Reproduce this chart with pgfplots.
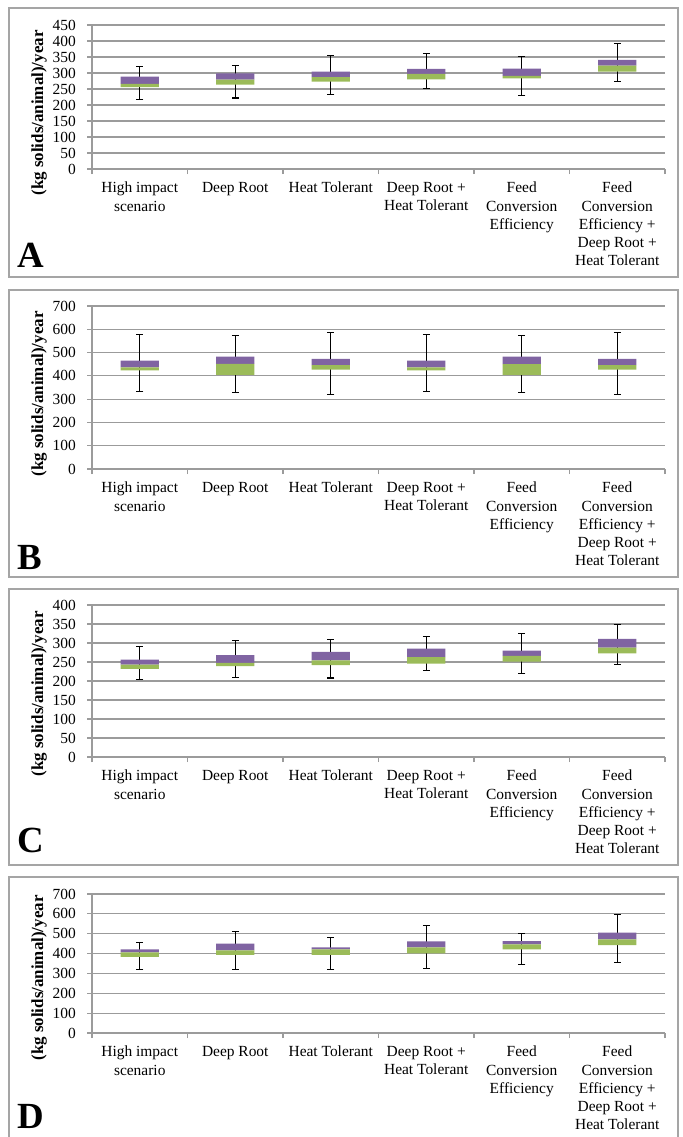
\documentclass[border=0pt]{standalone}
\usepackage{fontspec}
\setmainfont{Liberation Serif}
\usepackage{pgfplots}
\usepackage{pgfplotstable}
\pgfplotsset{compat=1.18}
\definecolor{boxpurple}{RGB}{128,100,162}
\definecolor{boxgreen}{RGB}{155,187,89}
\definecolor{gridgray}{RGB}{155,155,155}
\definecolor{framegray}{RGB}{165,165,165}

% x lo q1 med q3 hi  (whisker min, lower quartile, median, upper quartile, whisker max)
\pgfplotstableread{
x   lo  q1  med q3  hi
0.5 218 256 266 289 320
1.5 222 264 279 299 323
2.5 232 273 287 304 354
3.5 252 280 297 313 362
4.5 231 283 291 314 351
5.5 273 304 323 341 392
}\dataA
\pgfplotstableread{
x   lo  q1  med q3  hi
0.5 334 424 437 466 579
1.5 330 404 451 483 574
2.5 321 427 446 473 587
3.5 334 424 437 466 579
4.5 330 404 450 483 573
5.5 321 427 446 473 587
}\dataB
\pgfplotstableread{
x   lo  q1  med q3  hi
0.5 204 232 243 256 292
1.5 209 239 248 268 306
2.5 208 242 254 277 310
3.5 227 246 263 285 318
4.5 219 251 266 280 325
5.5 244 273 288 311 348
}\dataC
\pgfplotstableread{
x   lo  q1  med q3  hi
0.5 319 383 406 421 455
1.5 321 393 416 450 512
2.5 319 394 421 431 483
3.5 324 401 431 462 541
4.5 344 421 447 463 502
5.5 353 443 472 505 596
}\dataD

\pgfplotsset{
  base/.style={scale only axis, width=573bp, xmin=0, xmax=6, ymin=0, clip=false},
}

\newcommand\panel[8]{%
  \begin{axis}[base, at={(92bp,-#2bp)}, anchor=south west, height=#3bp, ymax=#4,
    axis x line*=bottom, axis y line*=left,
    axis line style={gridgray, line width=1.2bp},
    ymajorgrids, major grid style={gridgray, line width=1.2bp},
    ytick={0,#5,...,#4},
    xtick={0,...,6}, xticklabels={},
    extra x ticks={0.5,1.5,...,5.5},
    extra x tick labels={{High impact\\scenario},{Deep Root},{Heat Tolerant},{Deep Root +\\Heat Tolerant},{Feed\\Conversion\\Efficiency},{Feed\\Conversion\\Efficiency +\\Deep Root +\\Heat Tolerant}},
    extra x tick style={major tick length=0pt, grid=none},
    tick align=outside, major tick length=5bp,
    tick style={gridgray, line width=1.2bp},
    tick label style={font=\fontsize{15.5}{18.2}\selectfont},
    /pgf/number format/assume math mode=true,
    yticklabel style={anchor=east, inner sep=0pt, xshift=-11bp},
    xticklabel style={anchor=north, align=center, inner sep=0pt, yshift=-13bp},
  ]
  \addplot[black, no markers, draw=none,
    error bars/.cd, y dir=both, y explicit,
    error bar style={black, line width=1.1bp},
    error mark options={black, rotate=90, mark size=3.5bp, line width=1.1bp}]
    table[x=x, y=med, y error plus expr=\thisrow{hi}-\thisrow{med}, y error minus expr=\thisrow{med}-\thisrow{lo}] {#1};
  \end{axis}
  \begin{axis}[base, at={(92bp,-#2bp)}, anchor=south west, height=#3bp, ymax=#4,
    hide axis, ybar stacked, bar width=0.4]
  \addplot[draw=none, fill=none] table[x=x, y=q1] {#1};
  \addplot[draw=none, fill=boxgreen] table[x=x, y expr=\thisrow{med}-\thisrow{q1}] {#1};
  \addplot[draw=none, fill=boxpurple] table[x=x, y expr=\thisrow{q3}-\thisrow{med}] {#1};
  \end{axis}
  \node[anchor=base west, inner sep=0pt, font=\bfseries\fontsize{37}{37}\selectfont] at (17,-#7) {#6};
  \node[rotate=90, inner sep=0pt, font=\bfseries\fontsize{17}{17}\selectfont] at (39,-#8) {(kg solids/animal)/year};
}

\begin{document}
\begin{tikzpicture}[x=1bp, y=1bp]
\useasboundingbox (0,0) rectangle (683,-1137);
\draw[framegray, line width=1.2bp] (9,-8) rectangle (678,-277);
\draw[framegray, line width=1.2bp] (9,-290) rectangle (678,-577);
\draw[framegray, line width=1.2bp] (9,-589) rectangle (678,-865);
\draw[framegray, line width=1.2bp] (9,-877) rectangle (678,-1160);
\panel{\dataA}{169}{144}{450}{50}{A}{267}{113}
\panel{\dataB}{469}{163}{700}{100}{B}{569}{394}
\panel{\dataC}{757}{152}{400}{50}{C}{852}{694}
\panel{\dataD}{1033}{139}{700}{100}{D}{1128}{978}
\end{tikzpicture}
\end{document}
